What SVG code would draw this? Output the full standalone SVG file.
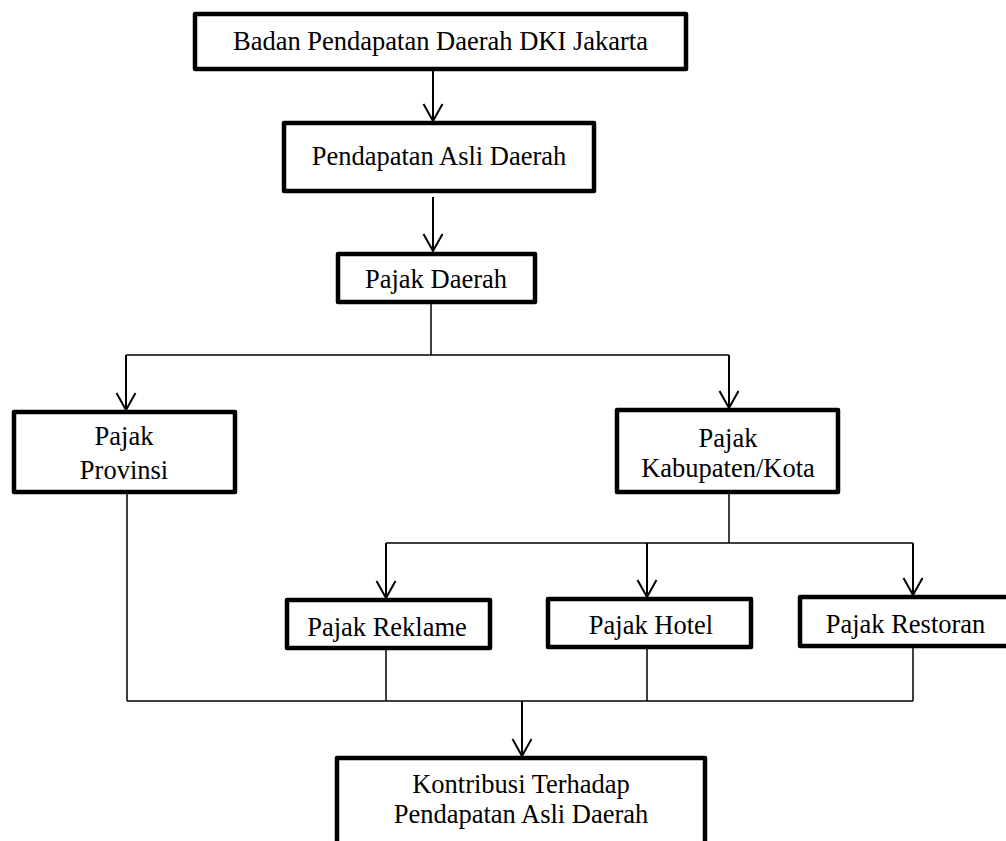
<svg xmlns="http://www.w3.org/2000/svg" width="1006" height="841" viewBox="0 0 1006 841">
<style>
.box{fill:#fff;stroke:#000;stroke-width:4.5;stroke-linejoin:round}
.t{font-family:"Liberation Serif","Times New Roman",serif;font-size:26.5px;fill:#000;text-anchor:middle}
.ln{fill:none;stroke:#000;stroke-width:1.5}
.ar{fill:none;stroke:#000;stroke-width:2;marker-end:url(#v)}
</style>
<defs>
<marker id="v" markerUnits="userSpaceOnUse" orient="auto" viewBox="-20 -12 22 24" refX="0" refY="0" markerWidth="22" markerHeight="24">
<path d="M-17,-9.5 L0,0 L-17,9.5" fill="none" stroke="#000" stroke-width="2"/>
</marker>
</defs>
<rect width="1006" height="841" fill="#fff"/>
<g id="connectors">
<line class="ar" x1="433" y1="71" x2="433" y2="121"/>
<line class="ar" x1="433" y1="197" x2="433" y2="251"/>
<line class="ln" x1="431" y1="304" x2="431" y2="355"/>
<line class="ln" x1="126" y1="355" x2="729" y2="355"/>
<line class="ar" x1="126" y1="355" x2="126" y2="410"/>
<line class="ar" x1="729" y1="355" x2="729" y2="408"/>
<line class="ln" x1="127" y1="494" x2="127" y2="701"/>
<line class="ln" x1="729" y1="494" x2="729" y2="543"/>
<line class="ln" x1="386" y1="543" x2="913" y2="543"/>
<line class="ar" x1="386" y1="543" x2="386" y2="598"/>
<line class="ar" x1="647" y1="543" x2="647" y2="597"/>
<line class="ar" x1="913" y1="543" x2="913" y2="595"/>
<line class="ln" x1="386" y1="650" x2="386" y2="701"/>
<line class="ln" x1="647" y1="649" x2="647" y2="701"/>
<line class="ln" x1="913" y1="648" x2="913" y2="701"/>
<line class="ln" x1="127" y1="701" x2="913" y2="701"/>
<line class="ar" x1="522" y1="701" x2="522" y2="756"/>
</g>
<g id="bapenda">
<rect class="box" x="195" y="14" width="491" height="55"/>
<text class="t" x="440.5" y="50">Badan Pendapatan Daerah DKI Jakarta</text>
</g>
<g id="pad">
<rect class="box" x="284" y="123" width="310" height="68"/>
<text class="t" x="439" y="165">Pendapatan Asli Daerah</text>
</g>
<g id="pajak-daerah">
<rect class="box" x="338" y="254" width="197" height="48"/>
<text class="t" x="436" y="288">Pajak Daerah</text>
</g>
<g id="pajak-provinsi">
<rect class="box" x="14" y="412" width="221" height="80"/>
<text class="t" x="124" y="445">Pajak</text>
<text class="t" x="124" y="479">Provinsi</text>
</g>
<g id="pajak-kabkota">
<rect class="box" x="617" y="410" width="221" height="82"/>
<text class="t" x="728" y="447">Pajak</text>
<text class="t" x="728" y="477">Kabupaten/Kota</text>
</g>
<g id="pajak-reklame">
<rect class="box" x="287" y="600" width="203" height="48"/>
<text class="t" x="387" y="636">Pajak Reklame</text>
</g>
<g id="pajak-hotel">
<rect class="box" x="548" y="599" width="203" height="48"/>
<text class="t" x="651" y="634">Pajak Hotel</text>
</g>
<g id="pajak-restoran">
<rect class="box" x="800" y="597" width="215" height="49"/>
<text class="t" x="905.5" y="633">Pajak Restoran</text>
</g>
<g id="kontribusi">
<rect class="box" x="337" y="758" width="368" height="100"/>
<text class="t" x="521" y="793">Kontribusi Terhadap</text>
<text class="t" x="521" y="823">Pendapatan Asli Daerah</text>
</g>
</svg>
